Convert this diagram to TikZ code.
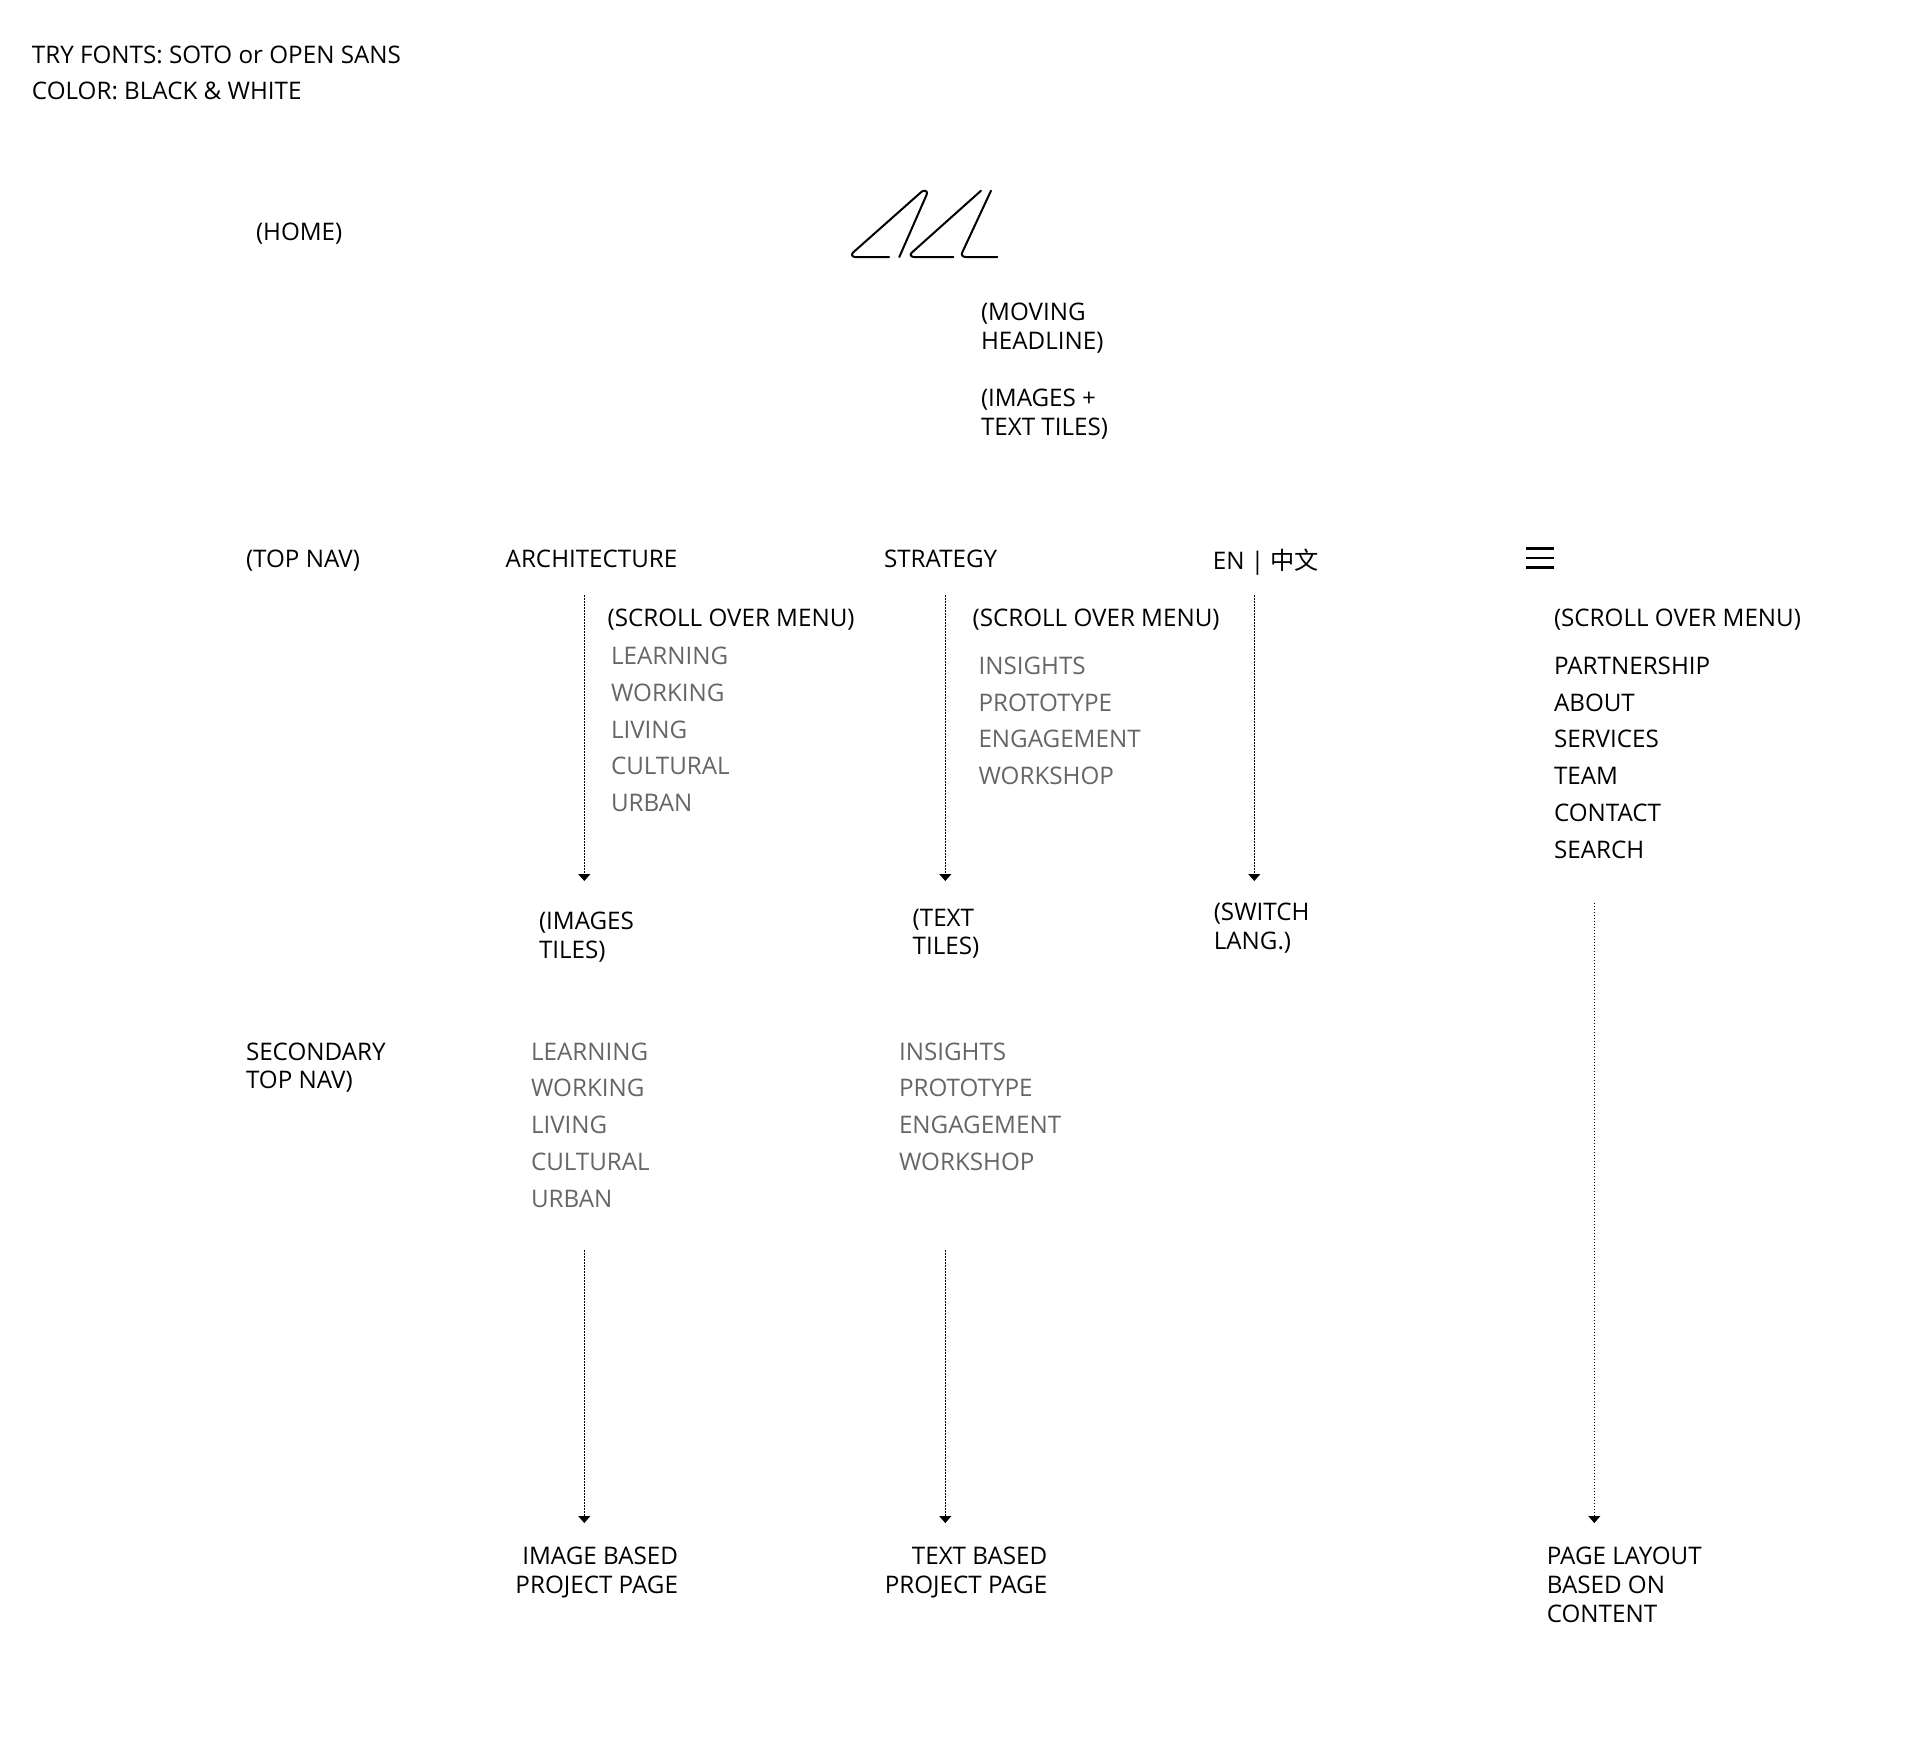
\documentclass[tikz,border=0pt]{standalone}
\usepackage{fontspec}
\setmainfont{Open Sans}
\newfontfamily\cjk{Noto Sans CJK SC}
\usetikzlibrary{arrows.meta}
\definecolor{greytext}{HTML}{666666}
\tikzset{
  x=0.5pt,y=-0.5pt,
  note/.style={anchor=base west,inner sep=0pt,outer sep=0pt,font=\fontsize{12.1pt}{14.25pt}\selectfont,align=left,text=black},
  noter/.style={note,anchor=base east,align=right},
  menu/.style={note,font=\fontsize{12.1pt}{18.4pt}\selectfont},
  submenu/.style={menu,text=greytext},
  flow/.style={draw=black,line width=0.5pt,dash pattern=on 0.8pt off 0.7pt,-{Triangle[width=6pt,length=3.5pt,sep=0pt]}},
  logo/.style={draw=black,line width=1pt,line cap=round,line join=round},
  burger/.style={draw=black,line width=1.3pt}
}
\begin{document}
\begin{tikzpicture}
\useasboundingbox (0,0) rectangle (1920,1755);
\fill[white] (0,0) rectangle (1920,1755);
% notes
\node[note] (try) at (32,63.5) {TRY FONTS: SOTO or OPEN SANS};
\node[note] (color) at (32,99.5) {COLOR: BLACK \& WHITE};
\node[note] (home) at (256,241) {(HOME)};
\node[note] (moving) at (981,320.5) {(MOVING};
\node[note] (headline) at (981,349) {HEADLINE)};
\node[note] (images) at (981,406.5) {(IMAGES +};
\node[note] (tiles) at (981,435) {TEXT TILES)};
% logo
\draw[logo] (889,257) -- (855,257) .. controls (852,257) and (851,254) .. (853.3,252.3) -- (921.5,191.8) .. controls (924.5,189.5) and (928,191) .. (926.7,194.5) -- (899.3,257);
\draw[logo] (981,190.7) -- (911.7,252.7) .. controls (909.5,254.5) and (911,257) .. (914,257) -- (953.3,257);
\draw[logo] (991,190.7) -- (962.3,252.3) .. controls (961,255) and (962.5,257) .. (965.7,257) -- (997.3,257);
% top nav
\node[note] (topnav) at (246,567.8) {(TOP NAV)};
\node[note] (arch) at (505.7,567.8) {ARCHITECTURE};
\node[note] (strat) at (884,567.8) {STRATEGY};
\node[note] (lang) at (1212.8,569) {EN | {\cjk 中文}};
\draw[burger] (1526,548.3) coordinate (b1) -- (1554,548.3);
\draw[burger] (1526,557.9) coordinate (b2) -- (1554,557.9);
\draw[burger] (1526,567.7) coordinate (b3) -- (1554,567.7);
% scroll menus
\node[note] (sc1) at (607.6,626) {(SCROLL OVER MENU)};
\node[note] (sc2) at (972.6,626) {(SCROLL OVER MENU)};
\node[note] (sc3) at (1554,626) {(SCROLL OVER MENU)};
\node[submenu] (a1) at (611,664.3) {LEARNING};
\node[submenu] (a2) at (611,701) {WORKING};
\node[submenu] (a3) at (611,738) {LIVING};
\node[submenu] (a4) at (611,774.8) {CULTURAL};
\node[submenu] (a5) at (611,811.6) {URBAN};
\node[submenu] (s1) at (978.5,674.1) {INSIGHTS};
\node[submenu] (s2) at (978.5,711) {PROTOTYPE};
\node[submenu] (s3) at (978.5,747.8) {ENGAGEMENT};
\node[submenu] (s4) at (978.5,784.8) {WORKSHOP};
\node[menu] (m1) at (1554,674.1) {PARTNERSHIP};
\node[menu] (m2) at (1554,711) {ABOUT};
\node[menu] (m3) at (1554,747.8) {SERVICES};
\node[menu] (m4) at (1554,784.8) {TEAM};
\node[menu] (m5) at (1554,821.5) {CONTACT};
\node[menu] (m6) at (1554,858.7) {SEARCH};
% results
\node[note] (it1) at (539,929) {(IMAGES};
\node[note] (it2) at (539,958.2) {TILES)};
\node[note] (tt1) at (912.7,926) {(TEXT};
\node[note] (tt2) at (912.7,954.2) {TILES)};
\node[note] (sl1) at (1213.8,920.8) {(SWITCH};
\node[note] (sl2) at (1213.8,949) {LANG.)};
% secondary nav
\node[note] (sec1) at (246,1060) {SECONDARY};
\node[note] (sec2) at (246,1088.4) {TOP NAV)};
\node[submenu] (b1n) at (531,1060) {LEARNING};
\node[submenu] (b2n) at (531,1096.7) {WORKING};
\node[submenu] (b3n) at (531,1133.6) {LIVING};
\node[submenu] (b4n) at (531,1170.4) {CULTURAL};
\node[submenu] (b5n) at (531,1207.6) {URBAN};
\node[submenu] (c1n) at (899,1060) {INSIGHTS};
\node[submenu] (c2n) at (899,1096.7) {PROTOTYPE};
\node[submenu] (c3n) at (899,1133.6) {ENGAGEMENT};
\node[submenu] (c4n) at (899,1170.4) {WORKSHOP};
% bottom
\node[noter] (ib1) at (678,1564.6) {IMAGE BASED};
\node[noter] (ib2) at (678,1593.5) {PROJECT PAGE};
\node[noter] (tb1) at (1047.3,1564.6) {TEXT BASED};
\node[noter] (tb2) at (1047.3,1593.5) {PROJECT PAGE};
\node[note] (pl1) at (1546.8,1564.6) {PAGE LAYOUT};
\node[note] (pl2) at (1546.8,1593.5) {BASED ON};
\node[note] (pl3) at (1546.8,1622.2) {CONTENT};
% connectors
\coordinate (f1s) at (584.3,595);
\coordinate (f1e) at (584.3,881);
\coordinate (f2s) at (945.3,595);
\coordinate (f2e) at (945.3,881);
\coordinate (f3s) at (1254.3,595);
\coordinate (f3e) at (1254.3,881);
\coordinate (f4s) at (584.3,1250);
\coordinate (f4e) at (584.3,1523);
\coordinate (f5s) at (945.3,1250);
\coordinate (f5e) at (945.3,1523);
\coordinate (f6s) at (1594.3,902.5);
\coordinate (f6e) at (1594.3,1523);
\draw[flow] (f1s) -- (f1e);
\draw[flow] (f2s) -- (f2e);
\draw[flow] (f3s) -- (f3e);
\draw[flow] (f4s) -- (f4e);
\draw[flow] (f5s) -- (f5e);
\draw[flow] (f6s) -- (f6e);
\end{tikzpicture}
\end{document}
